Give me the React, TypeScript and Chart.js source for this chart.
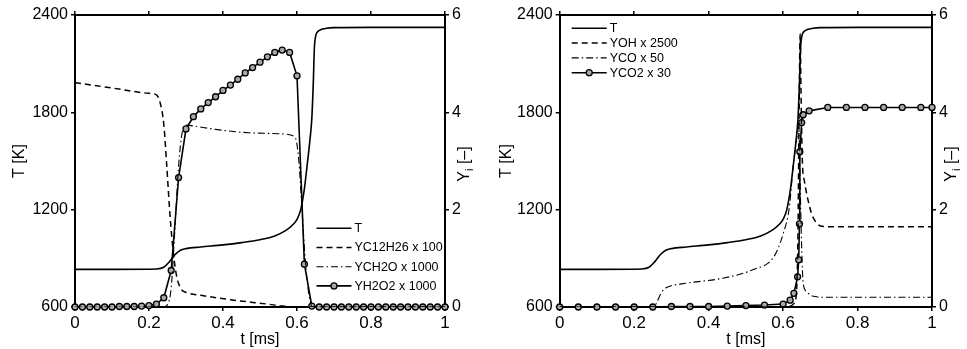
import React, { useEffect, useRef } from 'react';
import { Chart, registerables } from 'chart.js';

Chart.register(...registerables);

const FONT = '"Liberation Sans", Arial, Helvetica, sans-serif';

// Axis ticks
const timeTicks = [0, 0.2, 0.4, 0.6, 0.8, 1];
const tempTicks = [600, 1200, 1800, 2400];
const massTicks = [0, 2, 4, 6];

// Temperature history [K] vs time [ms]
const tTemp = [0, 0.1, 0.2, 0.22, 0.24, 0.255, 0.27, 0.285, 0.3, 0.34, 0.4, 0.45, 0.5, 0.54, 0.57, 0.59, 0.6, 0.61, 0.62, 0.627, 0.635, 0.64, 0.644, 0.647, 0.65, 0.655, 0.665, 0.68, 0.7, 0.8, 1];
const temp = [832, 832, 833, 834, 845, 878, 922, 950, 960, 970, 983, 997, 1015, 1038, 1072, 1110, 1140, 1200, 1330, 1465, 1630, 1760, 1980, 2200, 2265, 2295, 2310, 2318, 2322, 2324, 2324];

// Fuel and low-temperature intermediates (scaled mass fractions)
const tC12H26 = [0, 0.1, 0.2, 0.22, 0.23, 0.24, 0.248, 0.257, 0.266, 0.275, 0.288, 0.3, 0.34, 0.43, 0.52, 0.56, 0.6, 1];
const yC12H26 = [4.61, 4.5, 4.39, 4.36, 4.2, 3.75, 2.9, 1.86, 1.1, 0.62, 0.36, 0.3, 0.24, 0.14, 0.06, 0.02, 0, 0];

const tCH2O = [0, 0.24, 0.25, 0.26, 0.27, 0.28, 0.29, 0.3, 0.32, 0.38, 0.47, 0.55, 0.58, 0.592, 0.598, 0.605, 0.612, 0.62, 0.628, 0.636, 0.642, 1];
const yCH2O = [0, 0, 0.05, 0.4, 1.6, 2.9, 3.6, 3.74, 3.72, 3.65, 3.58, 3.56, 3.54, 3.5, 3.42, 3.0, 2.2, 1.2, 0.5, 0.1, 0, 0];

const tH2O2 = [0, 0.02, 0.04, 0.06, 0.08, 0.1, 0.12, 0.14, 0.16, 0.18, 0.2, 0.22, 0.24, 0.26, 0.28, 0.3, 0.32, 0.34, 0.36, 0.38, 0.4, 0.42, 0.44, 0.46, 0.48, 0.5, 0.52, 0.54, 0.56, 0.58, 0.6, 0.62, 0.64, 0.66, 0.68, 0.7, 0.72, 0.74, 0.76, 0.78, 0.8, 0.82, 0.84, 0.86, 0.88, 0.9, 0.92, 0.94, 0.96, 0.98, 1];
const yH2O2 = [0, 0, 0, 0, 0, 0, 0.01, 0.01, 0.01, 0.02, 0.03, 0.06, 0.19, 0.75, 2.66, 3.66, 3.91, 4.07, 4.2, 4.32, 4.45, 4.56, 4.68, 4.81, 4.92, 5.03, 5.14, 5.23, 5.28, 5.23, 4.75, 0.88, 0.02, 0, 0, 0, 0, 0, 0, 0, 0, 0, 0, 0, 0, 0, 0, 0, 0, 0, 0];

// High-temperature species (scaled mass fractions)
const tOH = [0, 0.6, 0.62, 0.63, 0.636, 0.64, 0.643, 0.646, 0.648, 0.652, 0.657, 0.663, 0.67, 0.676, 0.685, 0.699, 0.72, 1];
const yOH = [0, 0, 0.02, 0.08, 0.3, 1.5, 4.0, 5.62, 4.5, 2.95, 2.6, 2.34, 2.1, 1.93, 1.78, 1.67, 1.65, 1.65];

const tCO = [0, 0.25, 0.26, 0.27, 0.28, 0.29, 0.34, 0.43, 0.52, 0.575, 0.6, 0.617, 0.627, 0.636, 0.642, 0.646, 0.65, 0.654, 0.663, 0.672, 0.69, 0.708, 1];
const yCO = [0, 0, 0.08, 0.25, 0.36, 0.41, 0.49, 0.58, 0.77, 1.03, 1.5, 2.06, 2.88, 3.43, 3.7, 2.5, 1.2, 0.49, 0.32, 0.25, 0.21, 0.2, 0.2];

const tCO2 = [0, 0.05, 0.1, 0.15, 0.2, 0.25, 0.3, 0.35, 0.4, 0.45, 0.5, 0.55, 0.6, 0.619, 0.629, 0.639, 0.642, 0.644, 0.645, 0.65, 0.654, 0.67, 0.72, 0.77, 0.82, 0.87, 0.92, 0.97, 1];
const yCO2 = [0, 0, 0, 0, 0, 0, 0.01, 0.01, 0.01, 0.02, 0.03, 0.04, 0.06, 0.14, 0.28, 0.62, 0.97, 1.71, 3.19, 3.79, 3.95, 4.03, 4.1, 4.1, 4.1, 4.1, 4.1, 4.1, 4.1];

const zip = (xs: number[], ys: number[]) => xs.map((x, i) => ({ x, y: ys[i] }));

const SOLID: number[] = [];
const DASHED = [6, 4];
const DASHDOT = [7, 3, 1.5, 3];

function curve(label: string, xs: number[], ys: number[], axis: string, dash: number[], width: number) {
  return {
    label,
    data: zip(xs, ys),
    yAxisID: axis,
    xAxisID: 'x',
    borderColor: '#000',
    borderWidth: width,
    borderDash: dash,
    pointRadius: 0,
    fill: false,
    cubicInterpolationMode: 'monotone',
  };
}

function marked(label: string, xs: number[], ys: number[]) {
  return {
    label,
    data: zip(xs, ys),
    yAxisID: 'y2',
    xAxisID: 'x',
    borderColor: '#000',
    borderWidth: 1.6,
    borderDash: SOLID,
    pointRadius: 3,
    pointBorderWidth: 1.3,
    pointBorderColor: '#000',
    pointBackgroundColor: '#a8a8a8',
    tension: 0,
    fill: false,
    clip: 8,
  };
}

// Legend drawn inside the plot area
const speciesLegend = {
  id: 'speciesLegend',
  afterDatasetsDraw(chart: any, _args: any, opts: any) {
    const { ctx, chartArea } = chart;
    const x0 = chartArea.left + opts.dx;
    let y = chartArea.top + opts.dy;
    for (const ds of chart.data.datasets) {
      ctx.save();
      ctx.strokeStyle = '#000';
      ctx.lineWidth = ds.borderWidth;
      ctx.setLineDash(ds.borderDash || []);
      ctx.beginPath();
      ctx.moveTo(x0, y);
      ctx.lineTo(x0 + 35, y);
      ctx.stroke();
      ctx.setLineDash([]);
      if (ds.pointRadius > 0) {
        ctx.beginPath();
        ctx.arc(x0 + 17.5, y, ds.pointRadius, 0, Math.PI * 2);
        ctx.fillStyle = ds.pointBackgroundColor;
        ctx.fill();
        ctx.lineWidth = ds.pointBorderWidth;
        ctx.stroke();
      }
      ctx.fillStyle = '#000';
      ctx.font = `12.5px ${FONT}`;
      ctx.textBaseline = 'middle';
      ctx.textAlign = 'left';
      ctx.fillText(ds.label, x0 + 38, y + 0.5);
      ctx.restore();
      y += opts.spacing;
    }
  },
};

// Right-hand axis title with subscript, reading bottom to top
const speciesTitle = {
  id: 'speciesTitle',
  afterDraw(chart: any) {
    const { ctx, chartArea } = chart;
    const x = chartArea.right + 24;
    const cy = (chartArea.top + chartArea.bottom) / 2 + 3;
    ctx.save();
    ctx.translate(x, cy);
    ctx.rotate(-Math.PI / 2);
    ctx.fillStyle = '#000';
    ctx.textBaseline = 'alphabetic';
    ctx.textAlign = 'left';
    const big = `16px ${FONT}`;
    const small = `11px ${FONT}`;
    ctx.font = big;
    const wY = ctx.measureText('Y').width;
    const wRest = ctx.measureText(' [\u2013]').width;
    ctx.font = small;
    const wi = ctx.measureText('i').width;
    let px = -(wY + wi + wRest) / 2;
    ctx.font = big;
    ctx.fillText('Y', px, 0);
    px += wY;
    ctx.font = small;
    ctx.fillText('i', px, 4);
    px += wi;
    ctx.font = big;
    ctx.fillText(' [\u2013]', px, 0);
    ctx.restore();
  },
};

function axisStyle() {
  return {
    grid: { drawOnChartArea: false, drawTicks: true, tickLength: 4, color: '#000', lineWidth: 1.5 },
    border: { display: true, color: '#000', width: 2 },
  };
}

function buildScales(leftW: number, rightW: number, titlePad: number) {
  const tickFont = { family: FONT, size: 16 };
  const fixTicks = (vals: number[]) => (s: any) => {
    s.ticks = vals.map((v) => ({ value: v }));
  };
  return {
    x: {
      type: 'linear',
      position: 'bottom',
      min: 0,
      max: 1,
      afterBuildTicks: fixTicks(timeTicks),
      afterFit: (s: any) => { s.height = 42; },
      ticks: { font: { family: FONT, size: 17 }, color: '#000', padding: 2, maxRotation: 0, callback: (v: number) => String(v) },
      title: { display: true, text: 't [ms]', color: '#000', font: { family: FONT, size: 16 }, padding: { top: 0, bottom: 0 } },
      ...axisStyle(),
    },
    x2: {
      type: 'linear',
      position: 'top',
      min: 0,
      max: 1,
      afterBuildTicks: fixTicks(timeTicks),
      afterFit: (s: any) => { s.height = 15; },
      ticks: { display: false },
      ...axisStyle(),
    },
    y: {
      type: 'linear',
      position: 'left',
      min: 600,
      max: 2400,
      afterBuildTicks: fixTicks(tempTicks),
      afterFit: (s: any) => { s.width = leftW; },
      ticks: { font: tickFont, color: '#000', padding: 3, callback: (v: number) => String(v) },
      title: { display: true, text: 'T [K]', color: '#000', font: { family: FONT, size: 16 }, padding: { top: titlePad, bottom: 0 } },
      ...axisStyle(),
    },
    y2: {
      type: 'linear',
      position: 'right',
      min: 0,
      max: 6,
      afterBuildTicks: fixTicks(massTicks),
      afterFit: (s: any) => { s.width = rightW; },
      ticks: { font: tickFont, color: '#000', padding: 3, callback: (v: number) => String(v) },
      ...axisStyle(),
    },
  };
}

function Panel(props: { left: number; width: number; datasets: any[]; scales: any; legend: any }) {
  const ref = useRef<HTMLCanvasElement>(null);
  useEffect(() => {
    if (!ref.current) return;
    const chart = new Chart(ref.current, {
      type: 'line',
      data: { datasets: props.datasets },
      options: {
        animation: false,
        responsive: false,
        layout: { padding: 0 },
        scales: props.scales,
        plugins: {
          legend: { display: false },
          tooltip: { enabled: false },
          speciesLegend: props.legend,
        },
      } as any,
      plugins: [speciesLegend, speciesTitle],
    } as any);
    return () => chart.destroy();
  }, []);
  return (
    <canvas
      ref={ref}
      width={props.width}
      height={349}
      style={{ position: 'absolute', left: props.left, top: 0, width: props.width, height: 349 }}
    />
  );
}

export default function App() {
  const leftSets = [
    curve('T', tTemp, temp, 'y', SOLID, 1.6),
    curve('YC12H26 x 100', tC12H26, yC12H26, 'y2', DASHED, 1.5),
    curve('YCH2O x 1000', tCH2O, yCH2O, 'y2', DASHDOT, 1.1),
    marked('YH2O2 x 1000', tH2O2, yH2O2),
  ];
  const rightSets = [
    curve('T', tTemp, temp, 'y', SOLID, 1.6),
    curve('YOH x 2500', tOH, yOH, 'y2', DASHED, 1.5),
    curve('YCO x 50', tCO, yCO, 'y2', DASHDOT, 1.1),
    marked('YCO2 x 30', tCO2, yCO2),
  ];
  return (
    <div style={{ position: 'fixed', left: 0, top: 0, width: 967, height: 349, background: '#fff', overflow: 'hidden' }}>
      <Panel
        left={0}
        width={483}
        datasets={leftSets}
        scales={buildScales(75, 38, 10)}
        legend={{ dx: 241.5, dy: 213.3, spacing: 19.2 }}
      />
      <Panel
        left={483}
        width={484}
        datasets={rightSets}
        scales={buildScales(76.7, 35, 14)}
        legend={{ dx: 12, dy: 13.3, spacing: 14.8 }}
      />
    </div>
  );
}
